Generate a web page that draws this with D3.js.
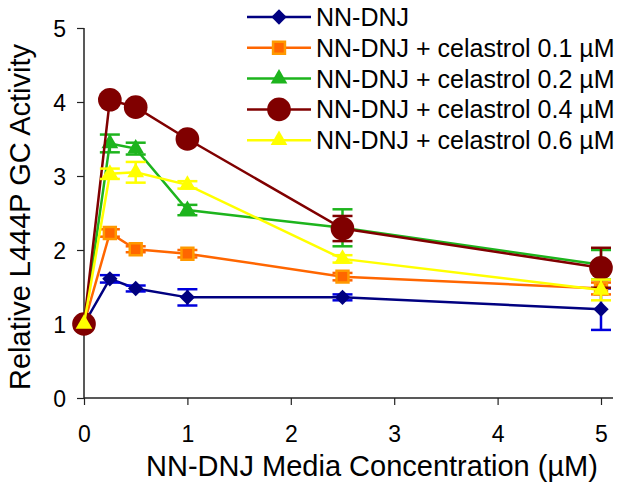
<!DOCTYPE html>
<html>
  <head>
    <meta charset="UTF-8" />
    <style>
      body { margin: 0; background: #fff; }
      text { font-family: Arial, "Liberation Sans", sans-serif; fill: #000; }
    </style>
  </head>
  <body>
    <script src="https://cdn.jsdelivr.net/npm/d3@7/dist/d3.min.js"></script>
    <script>
      // concentrations on the x axis
      var conc = [0, 0.25, 0.5, 1, 2.5, 5];

      var seriesNames = [
        "NN-DNJ",
        "NN-DNJ + celastrol 0.1 \u00b5M",
        "NN-DNJ + celastrol 0.2 \u00b5M",
        "NN-DNJ + celastrol 0.4 \u00b5M",
        "NN-DNJ + celastrol 0.6 \u00b5M"
      ];

      var dnj      = [1, 1.61, 1.48, 1.36, 1.36, 1.2];
      var cel01    = [1, 2.23, 2.01, 1.95, 1.64, 1.48];
      var cel02    = [1, 3.44, 3.37, 2.54, 2.3, 1.8];
      var cel04    = [1, 4.03, 3.93, 3.5, 2.29, 1.76];
      var cel06    = [1, 3.03, 3.05, 2.88, 1.88, 1.46];

      var dnjErr   = [0, 0.05, 0.04, 0.11, 0.04, 0.28];
      var cel01Err = [0, 0.05, 0.04, 0.05, 0.05, 0.08];
      var cel02Err = [0, 0.12, 0.08, 0.07, 0.25, 0.2];
      var cel04Err = [0, 0.03, 0.03, 0.03, 0.17, 0.27];
      var cel06Err = [0, 0.07, 0.14, 0.05, 0.05, 0.14];

      var xTicks = [0, 1, 2, 3, 4, 5];
      var yTicks = [0, 1, 2, 3, 4, 5];

      var series = [
        { name: seriesNames[0], vals: dnj,   err: dnjErr,   line: "#000080", errc: "#0000dd", fill: "#000080", stroke: "none",    shape: "diamond" },
        { name: seriesNames[1], vals: cel01, err: cel01Err, line: "#ff6600", errc: "#ff6600", fill: "#ff6600", stroke: "#ff9900", shape: "square" },
        { name: seriesNames[2], vals: cel02, err: cel02Err, line: "#1db41d", errc: "#1db41d", fill: "#1db41d", stroke: "none",    shape: "triangle" },
        { name: seriesNames[3], vals: cel04, err: cel04Err, line: "#800000", errc: "#800000", fill: "#800000", stroke: "none",    shape: "circle" },
        { name: seriesNames[4], vals: cel06, err: cel06Err, line: "#ffff00", errc: "#ffff00", fill: "#ffff00", stroke: "none",    shape: "triangle" }
      ];

      var width = 623, height = 490;
      var svg = d3.select("body").append("svg")
        .attr("width", width)
        .attr("height", height);

      var x = d3.scaleLinear().domain([0, 5]).range([84, 601]);
      var y = d3.scaleLinear().domain([0, 5]).range([398, 28]);

      // axes
      var xAxis = svg.append("g")
        .attr("transform", "translate(0,398)")
        .call(d3.axisBottom(x).tickValues(xTicks).tickSize(7).tickPadding(21).tickFormat(d3.format("d")));
      xAxis.select(".domain").attr("d", "M84,0H613");
      var yAxis = svg.append("g")
        .attr("transform", "translate(84,0)")
        .call(d3.axisLeft(y).tickValues(yTicks).tickSize(7).tickPadding(11).tickFormat(d3.format("d")));
      yAxis.select(".domain").attr("d", "M0,28V398");

      svg.selectAll(".domain").attr("stroke", "#222").attr("stroke-width", 1.5);
      svg.selectAll(".tick line").attr("stroke", "#222").attr("stroke-width", 1.2);
      svg.selectAll(".tick text")
        .attr("font-size", 23)
        .attr("font-family", "Arial, 'Liberation Sans', sans-serif")
        .attr("fill", "#000");
      yAxis.selectAll(".tick text").attr("dy", "0.36em");

      svg.append("text")
        .attr("x", 372)
        .attr("y", 476)
        .attr("text-anchor", "middle")
        .attr("font-size", 29)
        .text("NN-DNJ Media Concentration (\u00b5M)");

      svg.append("text")
        .attr("transform", "translate(30,217) rotate(-90)")
        .attr("text-anchor", "middle")
        .attr("font-size", 29)
        .text("Relative L444P GC Activity");

      var symbolFor = {
        diamond: d3.symbol().type(d3.symbolDiamond2).size(150),
        square: d3.symbol().type(d3.symbolSquare2).size(180),
        triangle: d3.symbol().type(d3.symbolTriangle2).size(200),
        circle: d3.symbol().type(d3.symbolCircle).size(440)
      };

      function drawMarker(g, s) {
        g.append("path")
          .attr("d", symbolFor[s.shape]())
          .attr("fill", s.fill)
          .attr("stroke", s.stroke)
          .attr("stroke-width", s.stroke === "none" ? 0 : 2.5);
      }

      var line = d3.line()
        .x(function(d) { return x(d.c); })
        .y(function(d) { return y(d.v); });

      series.forEach(function(s) {
        var pts = conc.map(function(c, i) { return { c: c, v: s.vals[i], e: s.err[i] }; });
        var g = svg.append("g");

        g.append("path")
          .datum(pts)
          .attr("d", line)
          .attr("fill", "none")
          .attr("stroke", s.line)
          .attr("stroke-width", 2.5);

        var eb = g.selectAll(".err")
          .data(pts.filter(function(d) { return d.e > 0; }))
          .enter().append("g")
          .attr("stroke", s.errc)
          .attr("stroke-width", 2.5);
        eb.append("line")
          .attr("x1", function(d) { return x(d.c); })
          .attr("x2", function(d) { return x(d.c); })
          .attr("y1", function(d) { return y(d.v + d.e); })
          .attr("y2", function(d) { return y(d.v - d.e); });
        eb.append("line")
          .attr("x1", function(d) { return x(d.c) - 10; })
          .attr("x2", function(d) { return x(d.c) + 10; })
          .attr("y1", function(d) { return y(d.v + d.e); })
          .attr("y2", function(d) { return y(d.v + d.e); });
        eb.append("line")
          .attr("x1", function(d) { return x(d.c) - 10; })
          .attr("x2", function(d) { return x(d.c) + 10; })
          .attr("y1", function(d) { return y(d.v - d.e); })
          .attr("y2", function(d) { return y(d.v - d.e); });

        g.selectAll(".mk")
          .data(pts)
          .enter().append("g")
          .attr("transform", function(d) { return "translate(" + x(d.c) + "," + y(d.v) + ")"; })
          .each(function() { drawMarker(d3.select(this), s); });
      });

      // legend
      var legend = svg.append("g");
      series.forEach(function(s, i) {
        var row = legend.append("g").attr("transform", "translate(0," + (17 + i * 30.8) + ")");
        row.append("line")
          .attr("x1", 247).attr("x2", 311)
          .attr("stroke", s.line).attr("stroke-width", 2.5);
        var m = row.append("g").attr("transform", "translate(279,0)");
        drawMarker(m, s);
        row.append("text")
          .attr("x", 316)
          .attr("y", 9)
          .attr("font-size", 25)
          .text(s.name);
      });
    </script>
  </body>
</html>
